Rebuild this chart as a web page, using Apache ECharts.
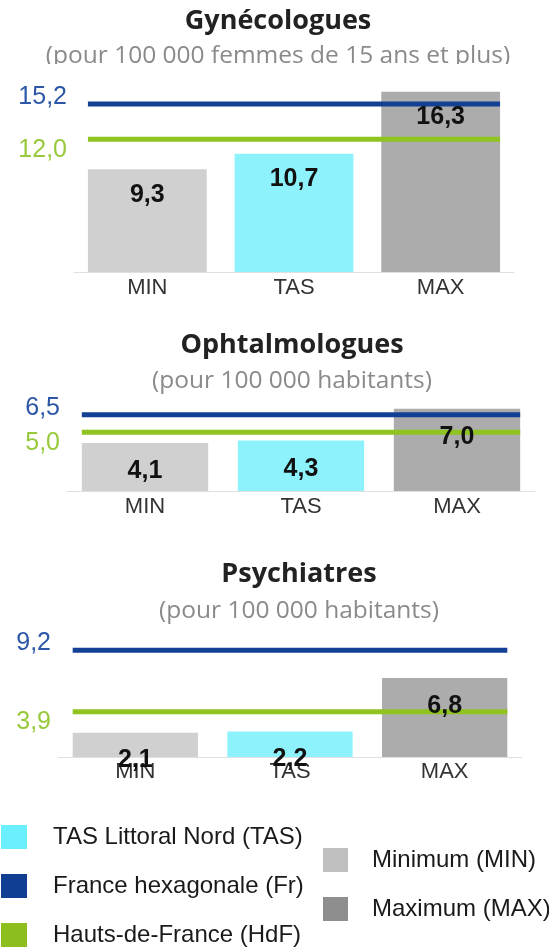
<!DOCTYPE html>
<html>
<head>
<meta charset="utf-8">
<script src="https://cdn.jsdelivr.net/npm/echarts@6/dist/echarts.min.js"></script>
<style>
  html, body { margin: 0; padding: 0; background: #ffffff; }
  #chart { width: 549px; height: 947px; }
</style>
</head>
<body>
<div id="chart"></div>
<script>
// Densités de spécialistes : minimum, territoire (TAS) et maximum, avec les repères France / Hauts-de-France
const categories = ['MIN', 'TAS', 'MAX'];
const panelTitles = ['Gynécologues', 'Ophtalmologues', 'Psychiatres'];
const panelSubtitles = [
  '(pour 100 000 femmes de 15 ans et plus)',
  '(pour 100 000 habitants)',
  '(pour 100 000 habitants)'
];
const gynecologuesValues = [9.3, 10.7, 16.3];
const ophtalmologuesValues = [4.1, 4.3, 7.0];
const psychiatresValues = [2.1, 2.2, 6.8];
const franceValues = [15.2, 6.5, 9.2];
const hautsDeFranceValues = [12.0, 5.0, 3.9];
const legendLeftNames = ['TAS Littoral Nord (TAS)', 'France hexagonale (Fr)', 'Hauts-de-France (HdF)'];
const legendRightNames = ['Minimum (MIN)', 'Maximum (MAX)'];

const panelValues = [gynecologuesValues, ophtalmologuesValues, psychiatresValues];

// Mise en page de chaque panneau (pixels)
const layout = [
  { left: 74, width: 440, top: 84, height: 188, yMax: 17, titleX: 278, titleTop: 4.5, subTop: 40.8, labelDist: 13, axisMargin: 5, hdfDy: 11 },
  { left: 67, width: 468, top: 403, height: 88, yMax: 7.5, titleX: 292, titleTop: 328.5, subTop: 365.8, labelDist: 16, axisMargin: 5, hdfDy: 11 },
  { left: 58, width: 464, top: 641, height: 116, yMax: 10, titleX: 299, titleTop: 557, subTop: 595.8, labelDist: 15, axisMargin: 4, hdfDy: 10 }
];

const barColors = ['#d0d0d0', '#8ef2fc', '#acacac'];
const frLine = '#133f95', frText = '#2c57a6';
const hdfLine = '#8fc31f', hdfText = '#97c93b';
const legendColors = {
  'TAS Littoral Nord (TAS)': '#69effd',
  'France hexagonale (Fr)': '#0f3e92',
  'Hauts-de-France (HdF)': '#8cbf1e',
  'Minimum (MIN)': '#c0c0c0',
  'Maximum (MAX)': '#8e8e8e'
};
const barFrac = 0.81;

const fmt = v => v.toFixed(1).replace('.', ',');

function refLine(lineColor, textColor, dy) {
  return function (params, api) {
    const v = api.value(1);
    const a = api.coord([0, v]);
    const b = api.coord([2, v]);
    const half = api.size([1, 0])[0] * barFrac / 2;
    return {
      type: 'group',
      children: [
        { type: 'line', shape: { x1: a[0] - half, y1: a[1], x2: b[0] + half, y2: a[1] },
          style: { stroke: lineColor, lineWidth: 5 } },
        { type: 'text', x: params.coordSys.x - 7, y: a[1] + dy,
          style: { text: fmt(v), fill: textColor, font: '25px "Liberation Sans", Arial, sans-serif',
                   align: 'right', verticalAlign: 'middle' } }
      ]
    };
  };
}

const title = [];
const grid = [], xAxis = [], yAxis = [], series = [];

layout.forEach((p, i) => {
  title.push({
    text: panelTitles[i], left: p.titleX, top: p.titleTop, textAlign: 'center', padding: 0,
    textStyle: { fontFamily: 'Open Sans', fontWeight: 'bold', fontSize: 27, lineHeight: 34, color: '#222222' }
  });
  title.push({
    text: panelSubtitles[i], left: p.titleX, top: p.subTop, textAlign: 'center', padding: 0,
    textStyle: { fontFamily: 'Open Sans', fontWeight: 'normal', fontSize: 24.5, lineHeight: 30, color: '#8a8a8a' }
  });
  grid.push({ left: p.left, width: p.width, top: p.top, height: p.height, containLabel: false });
  xAxis.push({
    gridIndex: i, type: 'category', data: categories,
    axisLine: { lineStyle: { color: '#e0e0e0', width: 1 } },
    axisTick: { show: false },
    axisLabel: { margin: p.axisMargin, fontFamily: 'Liberation Sans', fontSize: 22, color: '#333333' },
    splitLine: { show: false }
  });
  yAxis.push({ gridIndex: i, type: 'value', min: 0, max: p.yMax, show: false, splitLine: { show: false } });

  series.push({
    type: 'bar', xAxisIndex: i, yAxisIndex: i, z: 2,
    barCategoryGap: '19%', barGap: '-100%',
    data: panelValues[i].map((v, k) => ({ value: v, itemStyle: { color: barColors[k] } })),
    label: { show: false }
  });
  series.push({
    name: 'France hexagonale (Fr)', type: 'custom', xAxisIndex: i, yAxisIndex: i, z: 3,
    itemStyle: { color: legendColors['France hexagonale (Fr)'] },
    renderItem: refLine(frLine, frText, -7),
    data: [[0, franceValues[i]]]
  });
  series.push({
    name: 'Hauts-de-France (HdF)', type: 'custom', xAxisIndex: i, yAxisIndex: i, z: 3,
    itemStyle: { color: legendColors['Hauts-de-France (HdF)'] },
    renderItem: refLine(hdfLine, hdfText, p.hdfDy),
    data: [[0, hautsDeFranceValues[i]]]
  });
  // valeurs affichées au-dessus des traits de repère
  series.push({
    type: 'bar', xAxisIndex: i, yAxisIndex: i, z: 4,
    barCategoryGap: '19%', barGap: '-100%',
    itemStyle: { color: 'rgba(0,0,0,0)' },
    data: panelValues[i],
    label: {
      show: true, position: 'insideTop', distance: p.labelDist,
      formatter: d => fmt(d.value),
      fontFamily: 'Liberation Sans', fontWeight: 'bold', fontSize: 25, color: '#111111'
    }
  });
});

// entrées de légende des barres
['TAS Littoral Nord (TAS)', 'Minimum (MIN)', 'Maximum (MAX)'].forEach(n => {
  series.push({ name: n, type: 'line', xAxisIndex: 0, yAxisIndex: 0, data: [],
    itemStyle: { color: legendColors[n] }, lineStyle: { color: legendColors[n] } });
});

const legendText = { fontFamily: 'Liberation Sans', fontSize: 24, color: '#1a1a1a' };
const legend = [
  {
    orient: 'vertical', left: 1, top: 825, padding: 0, itemGap: 25, itemWidth: 26, itemHeight: 24,
    selectedMode: false, icon: 'rect',
    textStyle: Object.assign({ padding: [0, 0, 0, 21] }, legendText),
    data: legendLeftNames.map(n => ({ name: n, icon: 'rect', itemStyle: { color: legendColors[n] } }))
  },
  {
    orient: 'vertical', left: 323, top: 848, padding: 0, itemGap: 25, itemWidth: 25, itemHeight: 24,
    selectedMode: false, icon: 'rect',
    textStyle: Object.assign({ padding: [0, 0, 0, 19] }, legendText),
    data: legendRightNames.map(n => ({ name: n, icon: 'rect', itemStyle: { color: legendColors[n] } }))
  }
];

const chart = echarts.init(document.getElementById('chart'), null, { renderer: 'canvas' });
chart.setOption({
  backgroundColor: '#ffffff',
  animation: false,
  title, grid, xAxis, yAxis, series, legend,
  graphic: [
    // bas du sous-titre masqué par le cadre du graphique
    { type: 'rect', z: 10, shape: { x: 0, y: 64, width: 549, height: 10 }, style: { fill: '#ffffff' } }
  ]
});
</script>
</body>
</html>
